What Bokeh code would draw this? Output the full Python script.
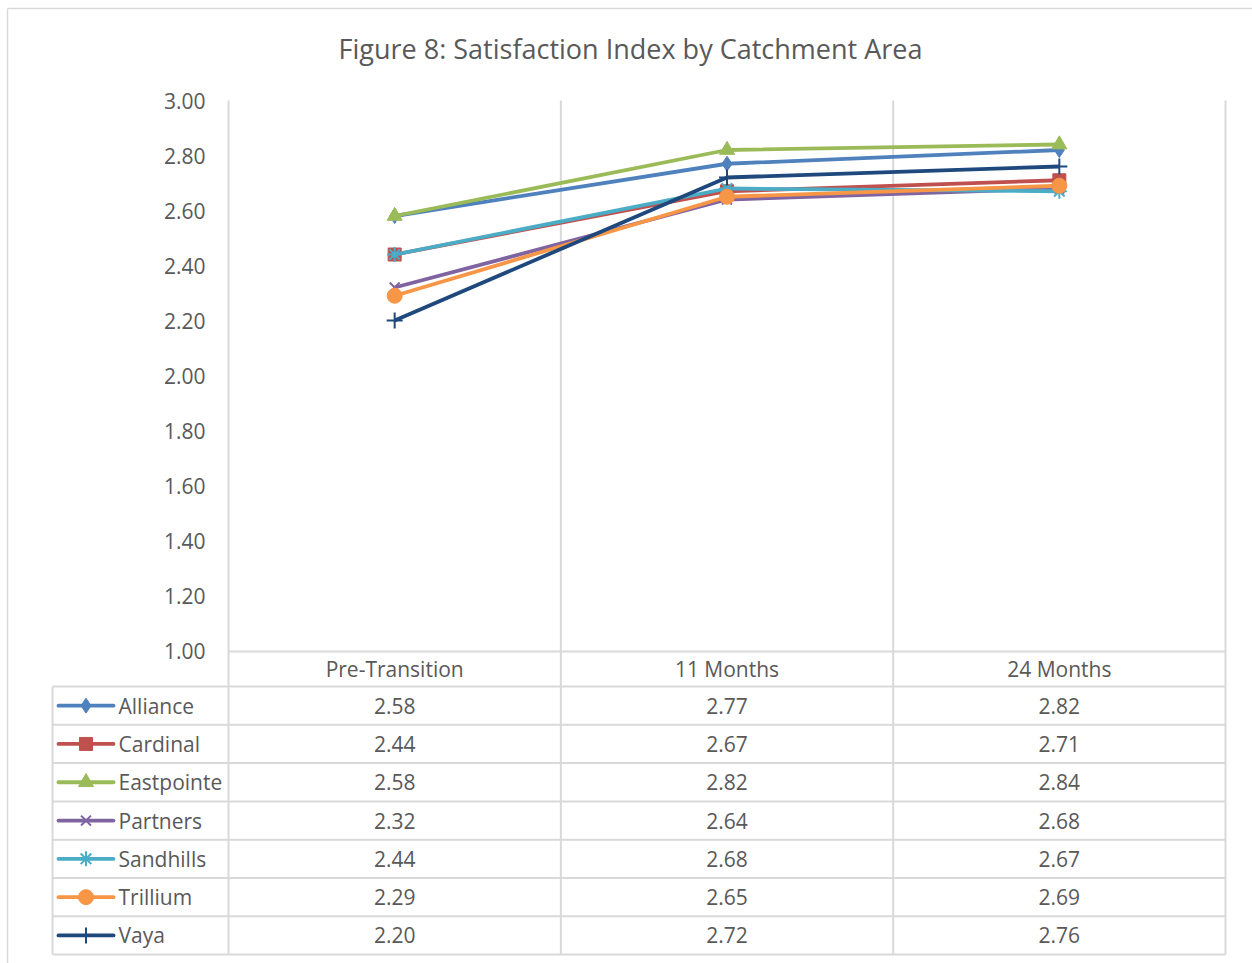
from bokeh.plotting import figure
from bokeh.models import Range1d
from bokeh.embed import file_html
from bokeh.resources import INLINE
from bokeh.core.properties import value

# ---------------- data ----------------
title_text = "Figure 8: Satisfaction Index by Catchment Area"
categories = ["Pre-Transition", "11 Months", "24 Months"]
series_names = ["Alliance", "Cardinal", "Eastpointe", "Partners", "Sandhills", "Trillium", "Vaya"]
alliance = [2.58, 2.77, 2.82]
cardinal = [2.44, 2.67, 2.71]
eastpointe = [2.58, 2.82, 2.84]
partners = [2.32, 2.64, 2.68]
sandhills = [2.44, 2.68, 2.67]
trillium = [2.29, 2.65, 2.69]
vaya = [2.20, 2.72, 2.76]
y_ticks = [1.00, 1.20, 1.40, 1.60, 1.80, 2.00, 2.20, 2.40, 2.60, 2.80, 3.00]

series_values = [alliance, cardinal, eastpointe, partners, sandhills, trillium, vaya]

# ---------------- styles / layout ----------------
colors = ["#4F81BD", "#C0504D", "#9BBB59", "#8064A2", "#4BACC6", "#F79646", "#1F497D"]
markers = ["diamond", "square", "triangle", "x", "asterisk", "circle", "cross"]
msizes = [15, 13, 15, 14, 15, 15, 16]
FONT = "Open Sans"
TXT = "#595959"
GRID = "#d9d9d9"

W, H = 1252, 963
LEFT, RIGHT, TOP, BOTTOM = 228, 1225, 100, 650   # plot area in pixels
Y0, Y1 = 1.0, 3.0                                   # value axis extent
ncat = len(categories)
cw = (RIGHT - LEFT) / ncat
ppu_y = (BOTTOM - TOP) / (Y1 - Y0)

xs = list(range(ncat))

p = figure(width=W, height=H, output_backend="svg", toolbar_location=None,
           min_border=0, x_axis_location=None, y_axis_location=None,
           x_range=Range1d(-0.5 - LEFT / cw, ncat - 0.5 + (W - RIGHT) / cw),
           y_range=Range1d(Y0 - (H - BOTTOM) / ppu_y, Y1 + TOP / ppu_y))
p.extra_x_ranges = {"px": Range1d(0, W)}
p.extra_y_ranges = {"px": Range1d(H, 0)}
p.outline_line_color = None
p.grid.visible = False
p.background_fill_color = "white"
p.border_fill_color = "white"

# outer chart border
p.segment(x0=[7, 7], y0=[8, 8], x1=[W + 5, 7], y1=[8, H + 5], x_range_name="px",
          y_range_name="px", line_color=GRID, line_width=1.5)

# title
p.text(x=[630], y=[48], text=[title_text], x_range_name="px", y_range_name="px",
       text_align="center", text_baseline="middle", text_font=value(FONT),
       text_font_size="27px", text_color=TXT)

# value-axis tick labels
p.text(x=[205] * len(y_ticks), y=y_ticks, text=[f"{t:.2f}" for t in y_ticks],
       x_range_name="px", text_align="right", text_baseline="middle",
       text_font=value(FONT), text_font_size="21px", text_color=TXT)

# ---------------- data table geometry ----------------
header_h = 36
row_h = 38.3
n = len(series_names)
table_bottom = BOTTOM + header_h + n * row_h
TL = 52
centers = [LEFT + (i + 0.5) * cw for i in range(ncat)]

# vertical lines (plot area dividers continuing through table)
vx = [LEFT + k * cw for k in range(ncat + 1)]
p.segment(x0=vx, y0=[TOP] * len(vx), x1=vx, y1=[table_bottom] * len(vx),
          x_range_name="px", y_range_name="px", line_color=GRID, line_width=2)
p.segment(x0=[TL], y0=[BOTTOM + header_h], x1=[TL], y1=[table_bottom],
          x_range_name="px", y_range_name="px", line_color=GRID, line_width=2)
# horizontal lines
hx0 = [LEFT] + [TL] * (n + 1)
hy = [BOTTOM + 1] + [BOTTOM + header_h + k * row_h for k in range(n + 1)]
p.segment(x0=hx0, y0=hy, x1=[RIGHT] * len(hy), y1=hy, x_range_name="px",
          y_range_name="px", line_color=GRID, line_width=2)

# header row
p.text(x=centers, y=[BOTTOM + header_h / 2] * ncat, text=categories,
       x_range_name="px", y_range_name="px", text_align="center",
       text_baseline="middle", text_font=value(FONT), text_font_size="21px",
       text_color=TXT)

# ---------------- series lines ----------------
for vals, c, m, s in zip(series_values, colors, markers, msizes):
    p.line(xs, vals, line_color=c, line_width=3.8)
    if m in ("x", "asterisk", "cross"):
        p.scatter(xs, vals, marker=m, size=s, line_color=c, line_width=2)
    else:
        p.scatter(xs, vals, marker=m, size=s, fill_color=c, line_color=c)

# ---------------- table rows ----------------
for i, (name, vals, c, m, s) in enumerate(zip(series_names, series_values, colors, markers, msizes)):
    yc = BOTTOM + header_h + (i + 0.5) * row_h
    p.line([58, 113], [yc, yc], x_range_name="px", y_range_name="px",
           line_color=c, line_width=3.8, line_cap="round")
    if m in ("x", "asterisk", "cross"):
        p.scatter([85.5], [yc], x_range_name="px", y_range_name="px", marker=m,
                  size=s, line_color=c, line_width=2)
    else:
        p.scatter([85.5], [yc], x_range_name="px", y_range_name="px", marker=m,
                  size=s, fill_color=c, line_color=c)
    p.text(x=[118], y=[yc], text=[name], x_range_name="px", y_range_name="px",
           text_align="left", text_baseline="middle", text_font=value(FONT),
           text_font_size="21px", text_color=TXT)
    p.text(x=centers, y=[yc] * ncat, text=[f"{v:.2f}" for v in vals],
           x_range_name="px", y_range_name="px", text_align="center",
           text_baseline="middle", text_font=value(FONT), text_font_size="21px",
           text_color=TXT)

open("out.html", "w").write(file_html(p, INLINE))
